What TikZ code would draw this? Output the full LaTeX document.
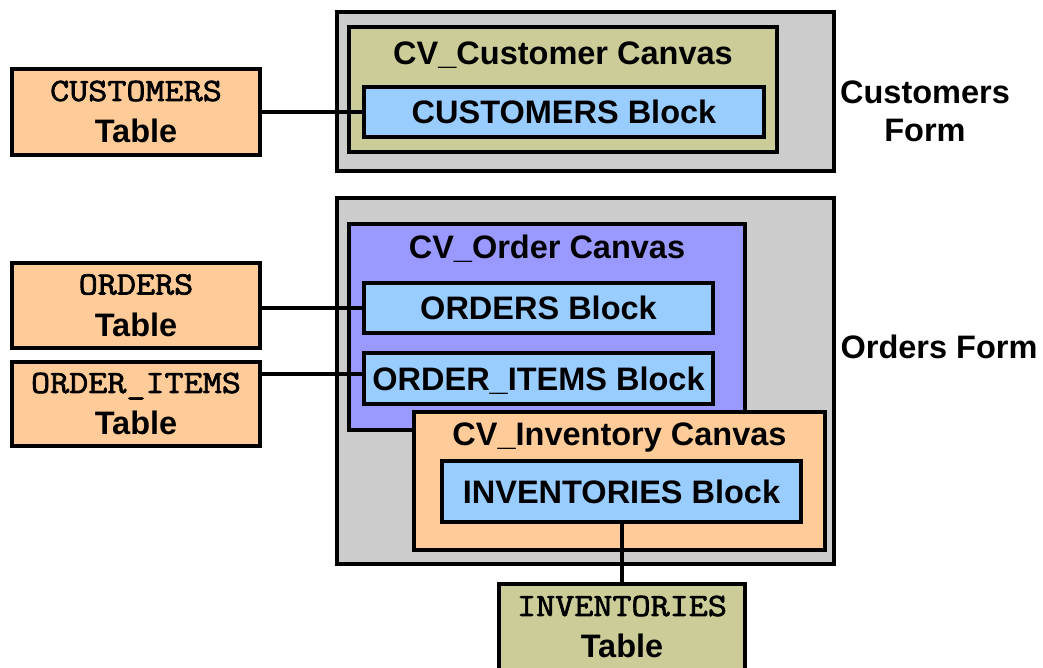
\documentclass[tikz,border=0pt]{standalone}
\usepackage{fontspec}
\setmainfont{Liberation Sans}
\newfontfamily\courlike[FakeStretch=1.14,UprightFeatures={FakeBold=2.2}]{Latin Modern Mono}
\definecolor{formgray}{HTML}{CCCCCC}
\definecolor{khaki}{HTML}{CCCC99}
\definecolor{blockblue}{HTML}{99CCFF}
\definecolor{canvpurple}{HTML}{9999FF}
\definecolor{peach}{HTML}{FFCC99}
\begin{document}
\begin{tikzpicture}[x=1pt,y=-1pt,line width=4pt,
  bigfont/.style={font=\fontsize{32.5}{42}\selectfont\bfseries},
  shapebox/.style={draw=black, inner sep=0pt, line width=4pt, rectangle},
  blockbox/.style={shapebox, fill=blockblue, bigfont, text height=23.4pt, text depth=0pt},
  tablebox/.style={shapebox, bigfont, align=center},
  plaintext/.style={inner sep=0pt, bigfont, align=center},
  formlabel/.style={inner sep=0pt, font=\fontsize{32.5}{38}\selectfont\bfseries, align=center},
  link/.style={draw=black, line width=4pt}]
\useasboundingbox (0,0) rectangle (1043,667);
\clip (0,0) rectangle (1043,667);

% Customers form
\node[shapebox, fill=formgray, minimum width=497pt, minimum height=159pt] (custform) at (585.5,91.5) {};
\node[shapebox, fill=khaki, minimum width=428pt, minimum height=125pt] (custcanvas) at (563,89.5) {};
\node[plaintext, anchor=base] (custcanvastitle) at (563,64) {CV\_Customer Canvas};
\node[blockbox, minimum width=400pt, minimum height=50pt] (custblock) at (564,112) {CUSTOMERS Block};
\node[tablebox, fill=peach, minimum width=248pt, minimum height=86pt] (custtable) at (136,112) {{\mdseries\courlike CUSTOMERS}\\Table};
\node[formlabel] (custformlabel) at (925,111) {Customers\\Form};

% Orders form
\node[shapebox, fill=formgray, minimum width=497pt, minimum height=366pt] (ordform) at (585.5,381) {};
\node[shapebox, fill=canvpurple, minimum width=396pt, minimum height=206pt] (ordcanvas) at (547,327) {};
\node[plaintext, anchor=base] (ordcanvastitle) at (547,258) {CV\_Order Canvas};
\node[blockbox, minimum width=349pt, minimum height=50pt] (ordblock) at (538.5,308) {ORDERS Block};
\node[blockbox, minimum width=349pt, minimum height=51pt] (itemblock) at (538.5,378.5) {ORDER\_ITEMS Block};
\node[shapebox, fill=peach, minimum width=411pt, minimum height=138pt] (invcanvas) at (619.5,481) {};
\node[plaintext, anchor=base] (invcanvastitle) at (619.5,445) {CV\_Inventory Canvas};
\node[blockbox, minimum width=359pt, minimum height=61pt] (invblock) at (621.5,491.5) {INVENTORIES Block};
\node[formlabel] (ordformlabel) at (939,347) {Orders Form};

\node[tablebox, fill=peach, minimum width=248pt, minimum height=85pt] (ordtable) at (136,305.5) {{\mdseries\courlike ORDERS}\\Table};
\node[tablebox, fill=peach, minimum width=248pt, minimum height=84pt] (itemtable) at (136,404) {{\mdseries\courlike ORDER\_ITEMS}\\Table};
\node[shapebox, fill=khaki, minimum width=246pt, minimum height=116pt] (invtable) at (622,642) {};
\node[plaintext] (invtabletext) at (622,627) {{\mdseries\courlike INVENTORIES}\\Table};

% Connectors
\draw[link] (custblock.west) -- (custblock.west -| custtable.east);
\draw[link] (ordblock.west) -- (ordblock.west -| ordtable.east);
\draw[link] ([yshift=4.5pt]itemblock.west) -- ([yshift=4.5pt]itemblock.west -| itemtable.east);
\draw[link] (invblock.south) -- (invblock.south |- invtable.north);
\end{tikzpicture}
\end{document}
